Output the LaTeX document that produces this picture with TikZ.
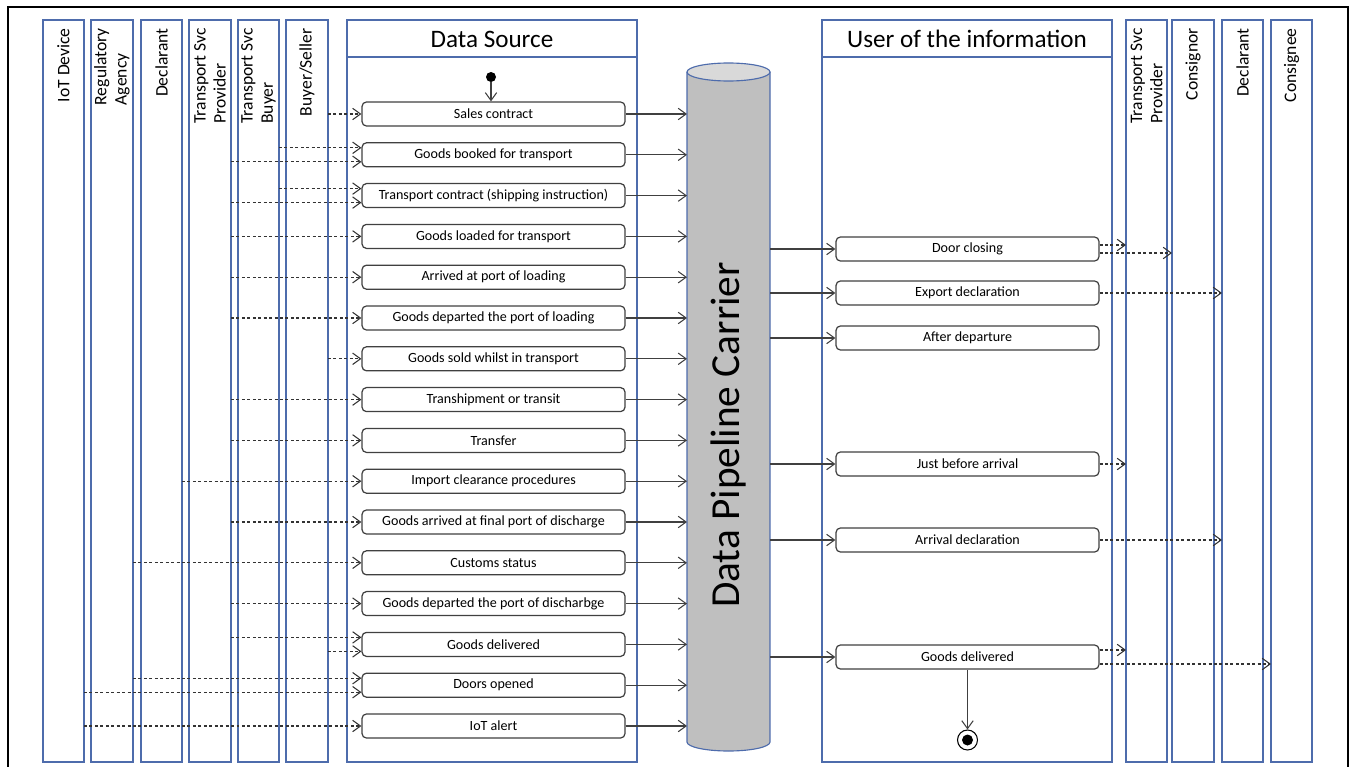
\documentclass[tikz,border=0pt]{standalone}
\usepackage{fontspec}
\setmainfont{Carlito}
\usetikzlibrary{arrows.meta,calc}

\definecolor{laneblue}{RGB}{78,108,172}
\definecolor{pipegray}{RGB}{191,191,191}

\begin{document}
\begin{tikzpicture}[x=0.02cm,y=-0.02cm,>={Straight Barb[length=4.5pt,width=6.5pt]}]
	\tikzstyle{lane}=[draw=laneblue,line width=0.65pt]
	\tikzstyle{lanelabel}=[rotate=90,anchor=east,align=left,inner sep=0pt,font=\fontsize{10}{11.5}\selectfont]
	\tikzstyle{event}=[draw=black!75,fill=white,rounded corners=2.5pt,line width=0.7pt,minimum width=5.26cm,minimum height=0.48cm,inner sep=0pt,font=\fontsize{8}{9}\selectfont]
	\tikzstyle{flow}=[->,draw=black!75,line width=0.6pt]
	\tikzstyle{feed}=[->,draw=black!80,line width=0.6pt,dash pattern=on 1.7pt off 1.4pt]

	\useasboundingbox (0,0) rectangle (1352,767);
	\draw[line width=1.4pt] (8,790) -- (8,7) -- (1348,7) -- (1348,790);

	% lanes of the senders
	\foreach \name/\xa/\xb/\txt in {iot/43/84/IoT Device, reg/91/133/{Regulatory\\Agency}, dec/141/182/Declarant, tsp/189/231/{Transport Svc\\Provider}, tsb/238/279/{Transport Svc\\Buyer}, bys/286/328/{Buyer/Seller}}
	{
	\draw[lane] (\xa,20) rectangle (\xb,762);
	\coordinate (L-\name) at (\xb,20);
	\node[lanelabel] (T-\name) at ({(\xa+\xb)/2},28) {\txt};
	}

	% lanes of the receivers
	\foreach \name/\xa/\xb/\txt in {tsp/1126/1167/{Transport Svc\\Provider}, con/1172/1214/Consignor, dcr/1222/1263/Declarant, cne/1271/1312/Consignee}
	{
	\draw[lane] (\xa,20) rectangle (\xb,762);
	\coordinate (R-\name) at (\xa,20);
	\node[lanelabel] (S-\name) at ({(\xa+\xb)/2},28) {\txt};
	}

	\foreach \name/\xa/\xb/\txt in {src/347/637/Data Source, usr/822/1112/User of the information}
	{
	\draw[lane] (\xa,20) rectangle (\xb,762);
	\draw[lane] (\xa,57) -- (\xb,57);
	\node[font=\fontsize{14.3}{16}\selectfont] (H-\name) at ({(\xa+\xb)/2},39) {\txt};
	}

	% the carrier
	\draw[draw=laneblue,fill=pipegray,line width=0.65pt] (687,72) -- (687,742) arc[start angle=180,end angle=360,x radius=0.83cm,y radius=0.18cm] -- (770,72);
	\draw[draw=laneblue,fill=black!15,line width=0.65pt] (728.5,72) ellipse[x radius=0.83cm,y radius=0.18cm];
	\node[rotate=90,font=\fontsize{23.5}{26}\selectfont] (pipe) at (728.5,435) {Data Pipeline Carrier};
	\coordinate (C-in) at (687,72);
	\coordinate (C-out) at (770,72);

	\foreach \i/\txt in {1/Sales contract, 2/Goods booked for transport, 3/Transport contract (shipping instruction), 4/Goods loaded for transport, 5/Arrived at port of loading, 6/Goods departed the port of loading, 7/Goods sold whilst in transport, 8/Transhipment or transit, 9/Transfer, 10/Import clearance procedures, 11/Goods arrived at final port of discharge, 12/Customs status, 13/Goods departed the port of discharbge, 14/Goods delivered, 15/Doors opened, 16/IoT alert}
	\node[event] (E-\i) at (493.5,{114+(\i-1)*40.8}) {\txt};

	\foreach \i/\y/\txt in {1/249/Door closing, 2/293/Export declaration, 3/338/After departure, 4/464/Just before arrival, 5/540/Arrival declaration, 6/657/Goods delivered}
	\node[event] (U-\i) at (967.5,\y) {\txt};

	\foreach \i in {1,...,16}
	\draw[flow] (E-\i.east) -- (C-in |- E-\i.east);

	\foreach \i in {1,...,6}
	\draw[flow] (C-out |- U-\i.west) -- (U-\i.west);

	% who sends what
	\foreach \from/\to/\dy in {bys/1/0, tsb/2/-7, tsp/2/7, tsb/3/-7, tsp/3/7, tsp/4/0, tsp/5/0, tsp/6/0, bys/7/0, tsp/8/0, tsp/9/0, dec/10/0, tsp/11/0, reg/12/0, tsp/13/0, tsp/14/-7, bys/14/7, reg/15/-7, iot/15/7, iot/16/0}
	{
	\coordinate (F-\from-\to) at ($(E-\to.west)+(0,\dy)$);
	\draw[feed] (L-\from |- F-\from-\to) -- (F-\from-\to);
	}

	% who gets what
	\foreach \from/\to/\dy in {1/tsp/-4, 1/con/4, 2/dcr/0, 4/tsp/0, 5/dcr/0, 6/tsp/-7, 6/cne/7}
	{
	\coordinate (O-\from-\to) at ($(U-\from.east)+(0,\dy)$);
	\draw[feed] (O-\from-\to) -- (R-\to |- O-\from-\to);
	}

	\node[circle,fill=black,inner sep=0pt,minimum size=0.2cm] (start) at (491,77) {};
	\draw[flow] (start) -- (start |- E-1.north);

	\node[circle,draw=black,fill=white,line width=0.6pt,inner sep=0pt,minimum size=0.4cm] (stop) at (967.5,740) {};
	\node[circle,fill=black,inner sep=0pt,minimum size=0.22cm] (stop-dot) at (stop) {};
	\draw[flow] (U-6.south) -- (stop);
\end{tikzpicture}
\end{document}
